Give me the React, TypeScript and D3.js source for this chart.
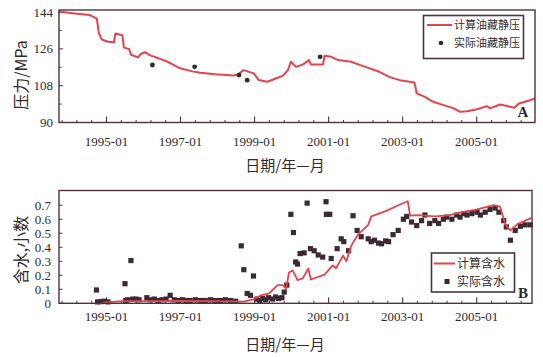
import React from 'react';
import * as d3 from 'd3';

// Axis labels and ticks
const majorYears = [1995, 1997, 1999, 2001, 2003, 2005];
const pressureTicks = [90, 108, 126, 144];
const waterTicks = [0, 0.1, 0.2, 0.3, 0.4, 0.5, 0.6, 0.7];

// Calculated reservoir static pressure, MPa (decimal year, value)
const calcPressure: [number, number][] = [
  [1993.70, 144.3], [1994.14, 143.3], [1994.55, 142.5], [1994.74, 140.8], [1994.79, 133.8],
  [1994.87, 130.6], [1995.04, 129.5], [1995.20, 129.2], [1995.24, 133.5], [1995.43, 132.7],
  [1995.47, 126.6], [1995.61, 126.0], [1995.66, 123.2], [1995.85, 121.8], [1995.93, 123.5],
  [1996.04, 124.4], [1996.18, 122.8], [1996.39, 121.5], [1996.64, 119.8], [1996.99, 116.5],
  [1997.32, 115.0], [1997.54, 114.3], [1997.94, 113.6], [1998.43, 113.0], [1998.54, 113.3],
  [1998.70, 115.6], [1998.98, 114.0], [1999.11, 110.8], [1999.35, 109.9], [1999.57, 111.5],
  [1999.76, 112.8], [1999.90, 115.6], [1999.98, 119.7], [2000.12, 117.2], [2000.31, 118.4],
  [2000.47, 120.5], [2000.52, 118.4], [2000.85, 118.4], [2000.89, 122.6], [2001.07, 122.1],
  [2001.26, 120.5], [2001.61, 119.7], [2001.80, 118.4], [2002.05, 116.8], [2002.37, 114.8],
  [2002.64, 112.3], [2002.92, 110.7], [2003.19, 109.9], [2003.32, 109.6], [2003.38, 104.2],
  [2003.60, 102.5], [2003.84, 100.0], [2004.11, 98.5], [2004.38, 96.9], [2004.55, 95.2],
  [2004.74, 95.5], [2005.01, 96.5], [2005.28, 98.0], [2005.36, 96.9], [2005.63, 98.8],
  [2005.82, 98.1], [2006.01, 97.2], [2006.14, 99.3], [2006.44, 100.9], [2006.57, 101.8],
];

// Measured reservoir static pressure, MPa
const measuredPressure: [number, number][] = [
  [1996.24, 118.1], [1997.38, 117.2], [1998.58, 113.2], [1998.80, 110.7], [2000.77, 122.1],
];

// Calculated water cut, fraction
const calcWater: [number, number][] = [
  [1994.90, 0.005], [1995.40, 0.015], [1996.00, 0.015], [1997.00, 0.018], [1998.00, 0.015],
  [1998.71, 0.012], [1998.98, 0.030], [1999.17, 0.057], [1999.39, 0.070], [1999.62, 0.130],
  [1999.76, 0.130], [1999.85, 0.105], [1999.93, 0.220], [2000.03, 0.235], [2000.16, 0.165],
  [2000.30, 0.178], [2000.45, 0.248], [2000.52, 0.170], [2000.89, 0.205], [2001.11, 0.270],
  [2001.20, 0.250], [2001.39, 0.340], [2001.48, 0.300], [2001.61, 0.410], [2001.79, 0.490],
  [2002.07, 0.560], [2002.15, 0.620], [2002.56, 0.660], [2002.88, 0.700], [2003.14, 0.728],
  [2003.20, 0.625], [2003.42, 0.630], [2003.87, 0.620], [2004.27, 0.630], [2004.60, 0.650],
  [2005.01, 0.670], [2005.46, 0.700], [2005.63, 0.690], [2005.78, 0.560], [2005.91, 0.520],
  [2006.10, 0.565], [2006.48, 0.610],
];

// Measured water cut, fraction
const measuredWater: [number, number][] = [
  [1994.73, 0.095], [1994.76, 0.010], [1994.85, 0.012], [1994.93, 0.015], [1995.04, 0.010],
  [1995.50, 0.140], [1995.52, 0.020], [1995.58, 0.025], [1995.66, 0.305], [1995.71, 0.030],
  [1995.80, 0.030], [1995.88, 0.025], [1996.09, 0.040], [1996.18, 0.025], [1996.29, 0.030],
  [1996.39, 0.020], [1996.50, 0.025], [1996.61, 0.030], [1996.72, 0.057], [1996.83, 0.025],
  [1996.94, 0.020], [1997.05, 0.025], [1997.15, 0.020], [1997.26, 0.020], [1997.40, 0.025],
  [1997.54, 0.020], [1997.67, 0.020], [1997.81, 0.025], [1997.94, 0.020], [1998.08, 0.020],
  [1998.21, 0.025], [1998.35, 0.020], [1998.49, 0.015], [1998.64, 0.410], [1998.71, 0.240],
  [1998.80, 0.070], [1998.89, 0.057], [1998.97, 0.195], [1999.06, 0.030], [1999.14, 0.020],
  [1999.22, 0.035], [1999.30, 0.025], [1999.38, 0.040], [1999.49, 0.030], [1999.57, 0.045],
  [1999.65, 0.035], [1999.74, 0.040], [1999.80, 0.080], [1999.87, 0.130], [1999.98, 0.635],
  [2000.05, 0.505], [2000.11, 0.295], [2000.16, 0.280], [2000.23, 0.355], [2000.34, 0.360],
  [2000.42, 0.715], [2000.51, 0.390], [2000.61, 0.375], [2000.72, 0.345], [2000.84, 0.330],
  [2000.93, 0.725], [2000.94, 0.635], [2001.03, 0.635], [2001.07, 0.320], [2001.23, 0.390],
  [2001.34, 0.460], [2001.41, 0.440], [2001.54, 0.375], [2001.66, 0.625], [2001.77, 0.520],
  [2001.88, 0.475], [2002.07, 0.460], [2002.15, 0.440], [2002.24, 0.450], [2002.35, 0.430],
  [2002.43, 0.425], [2002.54, 0.445], [2002.62, 0.440], [2002.74, 0.490], [2002.88, 0.520],
  [2003.02, 0.600], [2003.11, 0.620], [2003.24, 0.580], [2003.38, 0.555], [2003.51, 0.590],
  [2003.60, 0.630], [2003.73, 0.570], [2003.87, 0.590], [2003.97, 0.570], [2004.10, 0.600],
  [2004.19, 0.615], [2004.33, 0.600], [2004.46, 0.630], [2004.55, 0.615], [2004.65, 0.640],
  [2004.74, 0.630], [2004.87, 0.640], [2005.01, 0.650], [2005.10, 0.630], [2005.23, 0.650],
  [2005.36, 0.670], [2005.50, 0.680], [2005.60, 0.650], [2005.73, 0.590], [2005.80, 0.545],
  [2005.91, 0.450], [2006.04, 0.520], [2006.18, 0.550], [2006.31, 0.560], [2006.45, 0.560],
];

const RED = '#e8424c';
const FRAME = '#4d3240';
const INK = '#2f2a2c';
const SERIF = '"Liberation Serif", "DejaVu Serif", serif';
const CJK = '"Noto Sans CJK SC", "Noto Sans", sans-serif';

// Minor date ticks every 0.4 year, anchored on January 1995
const minorYears = d3.range(-3, 30).map((k) => +(1995 + k * 0.4).toFixed(2));

function Frame({ left, right, top, bottom }: { left: number; right: number; top: number; bottom: number }) {
  return (
    <rect x={left} y={top} width={right - left} height={bottom - top}
      fill="none" stroke={FRAME} strokeWidth={1.4} />
  );
}

function DateAxis({ x, bottom, left, right, labelY }: { x: d3.ScaleLinear<number, number>; bottom: number; left: number; right: number; labelY: number }) {
  return (
    <g>
      {minorYears.filter((v) => x(v) > left + 2 && x(v) < right - 2 && !majorYears.includes(v)).map((v) => (
        <line key={'m' + v} x1={x(v)} x2={x(v)} y1={bottom} y2={bottom - 2.5} stroke={FRAME} strokeWidth={1} />
      ))}
      {majorYears.map((v) => (
        <g key={v}>
          <line x1={x(v)} x2={x(v)} y1={bottom} y2={bottom - 6} stroke={FRAME} strokeWidth={1.1} />
          <text x={x(v)} y={labelY} textAnchor="middle" fontFamily={SERIF} fontSize={13} fill={INK}>
            {`${v}-01`}
          </text>
        </g>
      ))}
    </g>
  );
}

export default function App() {
  // Upper panel: static pressure
  const top = { left: 59, right: 535, top: 10, bottom: 122.5 };
  const xTop = d3.scaleLinear().domain([1993.717, 2006.575]).range([top.left, top.right]);
  const yTop = d3.scaleLinear().domain([90, 145]).range([top.bottom, top.top]);

  // Lower panel: water cut
  const bot = { left: 59, right: 532, top: 190.5, bottom: 303.3 };
  const xBot = d3.scaleLinear().domain([1993.717, 2006.494]).range([bot.left, bot.right]);
  const yBot = d3.scaleLinear().domain([0, 0.805]).range([bot.bottom, bot.top]);

  const pressureLine = d3.line<[number, number]>().x((d) => xTop(d[0])).y((d) => yTop(d[1]));
  const waterLine = d3.line<[number, number]>().x((d) => xBot(d[0])).y((d) => yBot(d[1]));

  const pressureMinor = d3.range(90, 145, 9);

  return (
    <svg width={543} height={357} style={{ position: 'absolute', left: 0, top: 0, background: '#fff' }}>
      <rect width={543} height={357} fill="#fff" />

      {/* ---------- pressure panel ---------- */}
      {pressureMinor.map((v) => (
        <line key={'py' + v} x1={top.left} x2={top.left + (pressureTicks.includes(v) ? 4 : 2.5)}
          y1={yTop(v)} y2={yTop(v)} stroke={FRAME} strokeWidth={1} />
      ))}
      {pressureTicks.map((v) => (
        <text key={'pl' + v} x={53} y={yTop(v)} dy="0.35em" textAnchor="end"
          fontFamily={SERIF} fontSize={13} fill={INK}>{v}</text>
      ))}
      <DateAxis x={xTop} bottom={top.bottom} left={top.left} right={top.right} labelY={146} />

      <path d={pressureLine(calcPressure) ?? ''} fill="none" stroke={RED} strokeWidth={2} strokeLinejoin="round" />
      {measuredPressure.map((d, i) => (
        <circle key={'mp' + i} cx={xTop(d[0])} cy={yTop(d[1])} r={2.4} fill={INK} />
      ))}
      <Frame {...top} />

      {/* legend */}
      <rect x={423.5} y={15.5} width={100} height={43} fill="#fff" stroke={FRAME} strokeWidth={1.6} />
      <line x1={427} x2={452} y1={25} y2={25} stroke={RED} strokeWidth={2} />
      <text x={454} y={25} dy="0.35em" fontFamily={CJK} fontSize={11} fill={INK}>计算油藏静压</text>
      <circle cx={441} cy={43} r={2.3} fill={INK} />
      <text x={454} y={43} dy="0.35em" fontFamily={CJK} fontSize={11} fill={INK}>实际油藏静压</text>
      <text x={523} y={117} textAnchor="middle" fontFamily={SERIF} fontWeight="bold" fontSize={15} fill={INK}>A</text>

      <text transform="translate(21,75) rotate(-90)" textAnchor="middle" dy="0.35em"
        fontFamily={CJK} fontSize={16} fill={INK}>压力/MPa</text>
      <text x={285} y={166} textAnchor="middle" dy="0.35em" fontFamily={CJK} fontSize={15} fill={INK}>日期/年—月</text>

      {/* ---------- water cut panel ---------- */}
      {waterTicks.map((v) => (
        <g key={'wy' + v}>
          <line x1={bot.left} x2={bot.left + 3.5} y1={yBot(v)} y2={yBot(v)} stroke={FRAME} strokeWidth={1} />
          <text x={51} y={yBot(v)} dy="0.35em" textAnchor="end" fontFamily={SERIF} fontSize={13} fill={INK}>
            {v === 0 ? '0' : v.toFixed(1)}
          </text>
        </g>
      ))}
      <DateAxis x={xBot} bottom={bot.bottom} left={bot.left} right={bot.right} labelY={321} />

      {measuredWater.map((d, i) => (
        <rect key={'mw' + i} x={xBot(d[0]) - 2.6} y={yBot(d[1]) - 2.6} width={5.2} height={5.2} fill="#3b2a33" />
      ))}
      <path d={waterLine(calcWater) ?? ''} fill="none" stroke={RED} strokeWidth={1.8} strokeLinejoin="round" />
      <Frame {...bot} />

      {/* legend */}
      <rect x={431.5} y={253} width={83} height={39} fill="#fff" stroke={FRAME} strokeWidth={1.6} />
      <line x1={434} x2={455} y1={263.5} y2={263.5} stroke={RED} strokeWidth={2} />
      <text x={457} y={263.5} dy="0.35em" fontFamily={CJK} fontSize={12} fill={INK}>计算含水</text>
      <rect x={444.5} y={279} width={5} height={5} fill="#3b2a33" />
      <text x={457} y={281.5} dy="0.35em" fontFamily={CJK} fontSize={12} fill={INK}>实际含水</text>
      <text x={523} y={298} textAnchor="middle" fontFamily={SERIF} fontWeight="bold" fontSize={15} fill={INK}>B</text>

      <text transform="translate(21,250) rotate(-90)" textAnchor="middle" dy="0.35em"
        fontFamily={CJK} fontSize={16} fill={INK}>含水,小数</text>
      <text x={285} y={345} textAnchor="middle" dy="0.35em" fontFamily={CJK} fontSize={15} fill={INK}>日期/年—月</text>
    </svg>
  );
}
